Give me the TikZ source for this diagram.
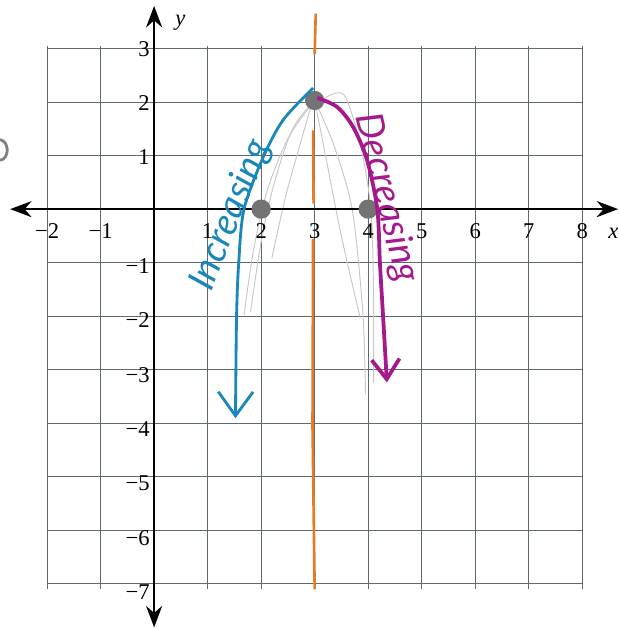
\documentclass[tikz,border=0pt]{standalone}
\usepackage{fontspec}
\setmainfont{Liberation Serif}
\newfontfamily\handfont{Lato}
\usetikzlibrary{arrows.meta}
\definecolor{gridgray}{RGB}{95,105,112}
\definecolor{penblue}{RGB}{25,135,185}
\definecolor{penmagenta}{RGB}{165,25,140}
\definecolor{penorange}{RGB}{232,122,35}

\begin{document}
\begin{tikzpicture}[x=1cm, y=1.015cm,
    grid/.style={gridgray, line width=0.5pt},
    axis/.style={{Stealth[length=4mm,width=3mm]}-{Stealth[length=4mm,width=3mm]}, line width=1pt},
    tick/.style={font=\fontsize{12}{12}\selectfont, inner sep=1pt},
    sketch/.style={black!22, line width=0.5pt},
    pt/.style={circle, fill=black!55, inner sep=0pt, minimum size=3.6mm},
    hand/.style={font=\handfont\itshape\fontsize{20}{20}\selectfont, inner sep=0pt},
]
    \useasboundingbox (-2.88,-7.73) rectangle (8.67,3.85);
    \draw[grid] (-2,-7) grid (8,3);

    % faint pencil sketches
    \draw[sketch] plot[smooth] coordinates {(3,2) (2.5,1.3) (2.1,0.3) (1.85,-0.8) (1.68,-1.95)};
    \draw[sketch] plot[smooth] coordinates {(3.05,2.05) (2.6,1.5) (2.25,0.5) (2.0,-0.6) (1.8,-1.9)};
    \draw[sketch] plot[smooth] coordinates {(2.95,1.95) (2.7,1.1) (2.45,0.2) (2.2,-0.9)};
    \draw[sketch] plot[smooth] coordinates {(3,2) (3.35,1.2) (3.7,0) (3.9,-1.9) (3.95,-3.4)};
    \draw[sketch] plot[smooth] coordinates {(3.2,2.05) (3.55,2.1) (3.85,1.2) (4.05,0) (4.1,-1.5) (4.1,-3.2)};
    \draw[sketch] plot[smooth] coordinates {(3,2) (3.2,1.0) (3.5,-0.5) (3.85,-2)};
    \draw[black!50, line width=1.5pt] (-2.88,1.28) .. controls (-2.70,1.25) and (-2.70,0.92) .. (-2.88,0.90);

    % axes
    \draw[axis] (-2.69,0) -- (8.67,0);
    \draw[axis] (0,-7.7) -- (0,3.74);
    \node[tick] (xlab) at (8.58,-0.44) {\itshape x};
    \node[tick] (ylab) at (0.49,3.44) {\itshape y};
    \foreach \x in {1,...,8}
        \node[tick] (xt\x) at (\x,-0.4) {\x};
    \foreach \x in {1,2}
        \node[tick] (xn\x) at (-\x,-0.4) {−\x};
    \foreach \y in {1,2,3}
        \node[tick, anchor=east] (yt\y) at (-0.04,\y-0.05) {\y};
    \foreach \y in {1,...,7}
        \node[tick, anchor=east] (yn\y) at (-0.04,-\y-0.05) {−\y};

    % axis of symmetry
    \draw[penorange, line width=1.4pt] (3.02,3.6) -- (3,2.85);
    \draw[penorange, line width=1.4pt] (2.97,1.45) -- (2.98,0.1);
    \draw[penorange, line width=1.4pt] (2.97,-0.55) -- (2.96,-4) -- (3.0,-7);

    % vertex and roots
    \node[pt] (vtx) at (3,2) {};
    \node[pt] (rootL) at (2,0) {};
    \node[pt] (rootR) at (4,0) {};

    % increasing / decreasing branches
    \draw[penblue, line width=1.5pt, -{Straight Barb[length=4.5mm,width=6.5mm]}]
        plot[smooth] coordinates {(2.97,2.23) (2.41,1.64) (2.04,0.96) (1.68,0) (1.58,-1) (1.54,-2) (1.52,-3.85)};
    \draw[penmagenta, line width=2pt, -{Straight Barb[length=3.7mm,width=5.2mm]}]
        plot[smooth] coordinates {(3.05,2.05) (3.42,1.88) (3.72,1.51) (3.98,0.9) (4.17,0) (4.22,-1) (4.28,-2) (4.35,-3.19)};

    \node[hand, penblue, rotate=68] (inc) at (1.44,-0.11) {Increasing};
    \node[hand, penmagenta, rotate=-76] (dec) at (4.34,0.2) {Decreasing};
\end{tikzpicture}
\end{document}
